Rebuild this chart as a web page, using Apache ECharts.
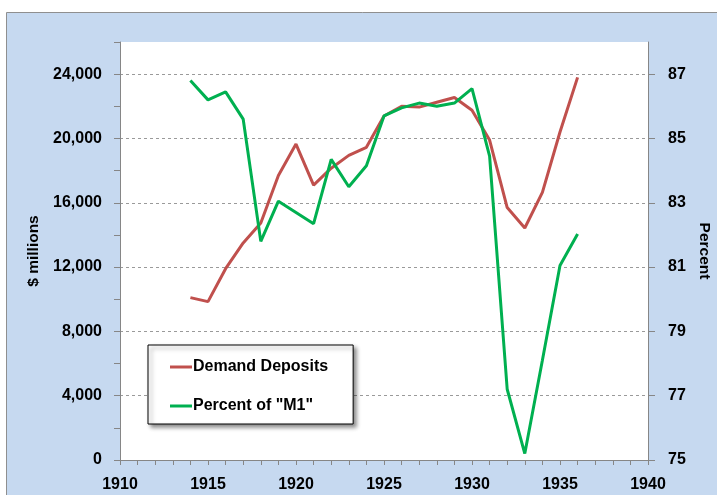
<!DOCTYPE html>
<html>
<head>
<meta charset="utf-8">
<script src="https://cdn.jsdelivr.net/npm/echarts@6/dist/echarts.min.js"></script>
<style>
html,body{margin:0;padding:0;background:#fff;}
#c{width:717px;height:495px;}
</style>
</head>
<body>
<div id="c"></div>
<script>
const years = [1914,1915,1916,1917,1918,1919,1920,1921,1922,1923,1924,1925,1926,1927,1928,1929,1930,1931,1932,1933,1934,1935,1936];
const demandDeposits = [10100,9850,11900,13500,14740,17700,19650,17100,18150,18950,19450,21400,22000,21950,22250,22550,21750,19900,15700,14430,16650,20400,23800];
const percentM1 = [86.8,86.2,86.45,85.6,81.8,83.05,82.7,82.35,84.35,83.5,84.15,85.7,85.95,86.1,86.0,86.1,86.55,84.45,77.2,75.2,78.1,81.05,82.03];
const leftTickLabels = [0,4000,8000,12000,16000,20000,24000];
const rightTickLabels = [75,77,79,81,83,85,87];
const xTickLabels = [1910,1915,1920,1925,1930,1935,1940];

const FONT = 'Liberation Sans';
const chart = echarts.init(document.getElementById('c'), null, {renderer:'canvas'});
const labelStyle = {color:'#000', fontFamily:FONT, fontWeight:'bold', fontSize:16};
const axisLineStyle = {color:'#868686', width:1};
const nameStyle = {color:'#000', fontFamily:FONT, fontWeight:'bold', fontSize:15.5};

chart.setOption({
  animation:false,
  backgroundColor:'#fff',
  graphic:[{
    type:'rect', z:-10, silent:true,
    shape:{x:6.5, y:12.5, width:720, height:500},
    style:{fill:'#c6d9f0', stroke:'#8f8f8f', lineWidth:1}
  }],
  grid:{left:120, right:69, top:42, bottom:35, show:true, backgroundColor:'#fff', borderWidth:0, containLabel:false, outerBoundsMode:'none'},
  legend:{
    orient:'vertical', left:148, top:345,
    padding:[14,25,10,22], itemGap:23, itemWidth:22, itemHeight:3, icon:'rect',
    backgroundColor:'#fff', borderColor:'#000', borderWidth:1, borderRadius:0,
    shadowColor:'rgba(0,0,0,0.45)', shadowBlur:4, shadowOffsetX:3, shadowOffsetY:3,
    textStyle:{color:'#000', fontFamily:FONT, fontWeight:'bold', fontSize:16, padding:[0,0,0,-4]},
    data:['Demand Deposits','Percent of "M1"']
  },
  xAxis:{
    type:'value', min:1910, max:1940, interval:1,
    axisLine:{show:true, lineStyle:axisLineStyle},
    axisTick:{show:true, length:5, lineStyle:axisLineStyle},
    axisLabel:Object.assign({margin:17, formatter:v => xTickLabels.includes(v) ? String(v) : ''}, labelStyle),
    splitLine:{show:false}
  },
  yAxis:[
    {
      type:'value', min:0, max:26000, interval:2000, position:'left',
      name:'$ millions', nameLocation:'middle', nameRotate:90, nameGap:78,
      nameTextStyle:nameStyle,
      axisLine:{show:true, lineStyle:axisLineStyle},
      axisTick:{show:true, length:6, lineStyle:axisLineStyle},
      axisLabel:Object.assign({margin:18, formatter:v => leftTickLabels.includes(v) ? v.toLocaleString('en-US') : ''}, labelStyle),
      splitLine:{show:false}
    },
    {
      type:'value', min:75, max:88, position:'right',
      name:'Percent', nameLocation:'middle', nameRotate:-90, nameGap:47,
      nameTextStyle:nameStyle,
      axisLine:{show:true, lineStyle:axisLineStyle},
      axisTick:{show:true, length:7, lineStyle:axisLineStyle, customValues:rightTickLabels},
      axisLabel:Object.assign({margin:20, customValues:rightTickLabels}, labelStyle),
      splitLine:{show:false}
    },
    {
      type:'value', min:0, max:26, interval:4, position:'left', show:true,
      axisLine:{show:false}, axisTick:{show:false}, axisLabel:{show:false},
      splitLine:{show:true, showMinLine:false, showMaxLine:false, lineStyle:{color:'#9a9a9a', type:[3,3], width:1}}
    }
  ],
  series:[
    {
      name:'Demand Deposits', type:'line', yAxisIndex:0, symbol:'none', showSymbol:false,
      lineStyle:{color:'#c0504d', width:3}, itemStyle:{color:'#c0504d'},
      data: years.map((y,i)=>[y, demandDeposits[i]])
    },
    {
      name:'Percent of "M1"', type:'line', yAxisIndex:1, symbol:'none', showSymbol:false,
      lineStyle:{color:'#00b050', width:3}, itemStyle:{color:'#00b050'},
      data: years.map((y,i)=>[y, percentM1[i]])
    }
  ]
});
</script>
</body>
</html>
